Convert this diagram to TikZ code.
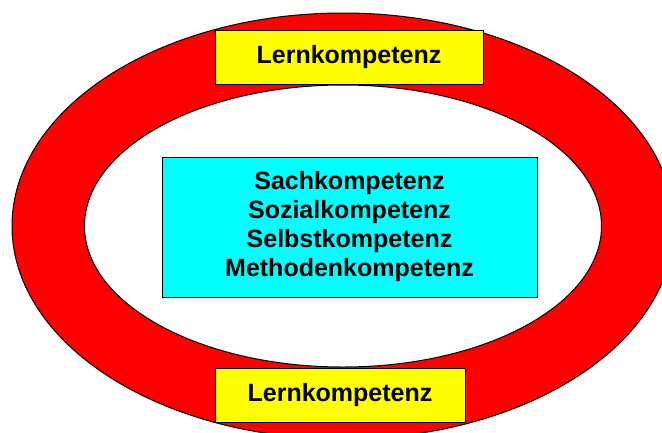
\documentclass[tikz,border=0pt]{standalone}
\usepackage{fontspec}
\setmainfont{Liberation Sans}
\definecolor{ringrot}{RGB}{255,0,0}
\definecolor{boxgelb}{RGB}{255,255,0}
\definecolor{tuerkis}{RGB}{0,255,255}

\begin{document}
\begin{tikzpicture}[x=1pt,y=-1pt]
\tikzstyle{every node}+=[inner sep=0pt, font=\bfseries\fontsize{25}{29}\selectfont]
\tikzstyle{lernbox}=[draw=black, line width=1pt, fill=boxgelb, minimum height=54pt]
\useasboundingbox (0,0) rectangle (662,432);
\draw [black, line width=1pt, fill=ringrot] (343,226) ellipse (331pt and 213pt);
\draw [black, line width=1pt, fill=white] (343,226) ellipse (258.5pt and 141pt);
\draw (349,57) node [lernbox, minimum width=268pt] (lernoben) {Lernkompetenz};
\draw (340,395) node [lernbox, minimum width=250pt] (lernunten) {Lernkompetenz};
\draw (349.5,227) node [draw=black, line width=1pt, fill=tuerkis, minimum width=375pt, minimum height=140pt, align=center] (kern) {Sachkompetenz\\Sozialkompetenz\\Selbstkompetenz\\Methodenkompetenz};
\end{tikzpicture}
\end{document}
